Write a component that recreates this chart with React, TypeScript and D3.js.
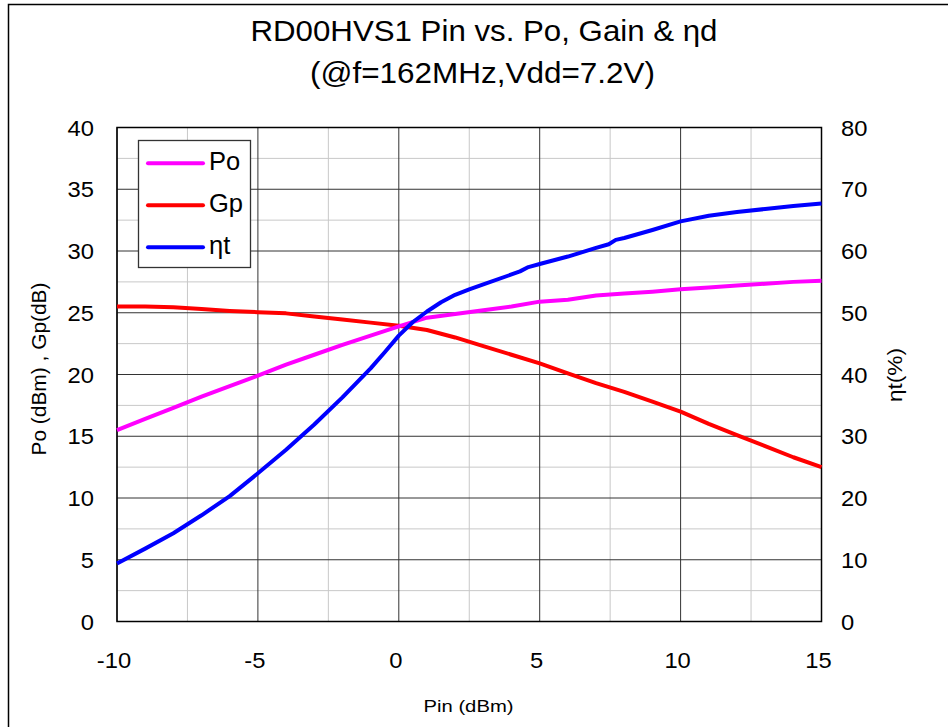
import React from 'react';
import * as d3 from 'd3';

// Pin (dBm) sample points
const pinMain = [-10, -9, -8, -7, -6, -5, -4, -3, -2, -1, 0, 1, 2, 3, 4, 5, 6, 7, 8, 9, 10, 11, 12, 13, 14, 15];
const poValues = [15.5, 16.4, 17.3, 18.2, 19.05, 19.9, 20.8, 21.6, 22.4, 23.15, 23.9, 24.6, 24.9, 25.2, 25.5, 25.9, 26.05, 26.4, 26.55, 26.7, 26.9, 27.05, 27.2, 27.35, 27.5, 27.6];
const gpValues = [25.5, 25.5, 25.45, 25.3, 25.15, 25.05, 24.95, 24.7, 24.45, 24.2, 23.95, 23.6, 23.0, 22.3, 21.6, 20.9, 20.1, 19.3, 18.6, 17.8, 17.0, 16.0, 15.1, 14.2, 13.3, 12.5];

const pinEta = [-10, -9, -8, -7, -6, -5, -4, -3, -2, -1, -0.5, 0, 0.5, 1, 1.5, 2, 2.5, 3, 4, 4.3, 4.6, 5, 6, 7, 7.45, 7.7, 8, 9, 10, 11, 12, 13, 14, 15];
const etaValues = [9.4, 11.8, 14.3, 17.2, 20.3, 24.0, 27.8, 31.9, 36.3, 41.0, 43.6, 46.3, 48.5, 50.2, 51.7, 52.9, 53.8, 54.6, 56.2, 56.7, 57.4, 57.9, 59.1, 60.5, 61.1, 61.8, 62.1, 63.4, 64.8, 65.7, 66.3, 66.8, 67.3, 67.7];

const xTicks = [-10, -5, 0, 5, 10, 15];
const xMinor = [-7.5, -2.5, 2.5, 7.5, 12.5];
const yLeftTicks = [0, 5, 10, 15, 20, 25, 30, 35, 40];
const yLeftMinor = [2.5, 7.5, 12.5, 17.5, 22.5, 27.5, 32.5, 37.5];
const yRightTicks = [0, 10, 20, 30, 40, 50, 60, 70, 80];

const legendItems = [
  { name: 'Po', color: '#ff00ff' },
  { name: 'Gp', color: '#ff0000' },
  { name: 'ηt', color: '#0000ff' },
];

const FONT = 'Arial, "Liberation Sans", sans-serif';

const App = () => {
  const width = 948;
  const height = 727;
  const margin = { left: 117, right: 948 - 821.5, top: 127.5, bottom: 727 - 621.5 };

  const x = d3.scaleLinear().domain([-10, 15]).range([margin.left, width - margin.right]);
  const yL = d3.scaleLinear().domain([0, 40]).range([height - margin.bottom, margin.top]);
  const yR = d3.scaleLinear().domain([0, 80]).range([height - margin.bottom, margin.top]);

  const lineL = d3.line<[number, number]>().x(d => x(d[0])).y(d => yL(d[1]));
  const lineR = d3.line<[number, number]>().x(d => x(d[0])).y(d => yR(d[1]));

  const poPath = lineL(pinMain.map((p, i) => [p, poValues[i]]));
  const gpPath = lineL(pinMain.map((p, i) => [p, gpValues[i]]));
  const etaPath = lineR(pinEta.map((p, i) => [p, etaValues[i]]));

  const x0 = x(-10), x1 = x(15), y0 = yL(0), y1 = yL(40);
  const sx = 1.08; // the original text is slightly wide

  return (
    <div style={{ position: 'absolute', left: 0, top: 0 }}>
      <svg width={width} height={height} style={{ display: 'block', fontFamily: FONT }}>
        <rect x={0} y={0} width={width} height={height} fill="#fff" />
        {/* outer frame */}
        <rect x={8.5} y={4.5} width={960} height={760} fill="none" stroke="#000" strokeWidth={1.5} />

        {/* title */}
        <text x={484} y={41} fontSize={29} textAnchor="middle" textLength={467} lengthAdjust="spacingAndGlyphs" fill="#000">
          RD00HVS1 Pin vs. Po, Gain &amp; ηd
        </text>
        <text x={482.5} y={83} fontSize={29} textAnchor="middle" textLength={345} lengthAdjust="spacingAndGlyphs" fill="#000">
          (@f=162MHz,Vdd=7.2V)
        </text>

        {/* minor grid */}
        {xMinor.map(v => (
          <line key={'xm' + v} x1={x(v)} x2={x(v)} y1={y1} y2={y0} stroke="#c8c8c8" strokeWidth={1} />
        ))}
        {yLeftMinor.map(v => (
          <line key={'ym' + v} x1={x0} x2={x1} y1={yL(v)} y2={yL(v)} stroke="#c8c8c8" strokeWidth={1} />
        ))}
        {/* major grid */}
        {xTicks.map(v => (
          <line key={'xg' + v} x1={x(v)} x2={x(v)} y1={y1} y2={y0} stroke="#333" strokeWidth={1} />
        ))}
        {yLeftTicks.map(v => (
          <line key={'yg' + v} x1={x0} x2={x1} y1={yL(v)} y2={yL(v)} stroke="#333" strokeWidth={1} />
        ))}
        <rect x={x0} y={y1} width={x1 - x0} height={y0 - y1} fill="none" stroke="#000" strokeWidth={1.5} />

        {/* series */}
        <path d={gpPath || ''} fill="none" stroke="#ff0000" strokeWidth={4} strokeLinejoin="round" />
        <path d={poPath || ''} fill="none" stroke="#ff00ff" strokeWidth={4} strokeLinejoin="round" />
        <path d={etaPath || ''} fill="none" stroke="#0000ff" strokeWidth={4} strokeLinejoin="round" />

        {/* left axis labels */}
        {yLeftTicks.map(v => (
          <text key={'yl' + v} transform={`translate(94,${yL(v) + 8}) scale(${sx},1)`} fontSize={22} textAnchor="end" fill="#000">
            {v}
          </text>
        ))}
        {/* right axis labels */}
        {yRightTicks.map(v => (
          <text key={'yr' + v} transform={`translate(841,${yR(v) + 8}) scale(${sx},1)`} fontSize={22} textAnchor="start" fill="#000">
            {v}
          </text>
        ))}
        {/* x axis labels */}
        {xTicks.map(v => (
          <text key={'xl' + v} transform={`translate(${x(v) - 3},${y0 + 46}) scale(${sx},1)`} fontSize={22} textAnchor="middle" fill="#000">
            {v}
          </text>
        ))}

        {/* axis titles */}
        <text x={468.5} y={712} fontSize={17} textAnchor="middle" textLength={90} lengthAdjust="spacingAndGlyphs" fill="#000">
          Pin (dBm)
        </text>
        <text transform={`translate(46,369) rotate(-90)`} fontSize={20} textAnchor="middle" textLength={173} lengthAdjust="spacingAndGlyphs" fill="#000">
          Po (dBm) , Gp(dB)
        </text>
        <text transform={`translate(902,375) rotate(-90)`} fontSize={20} textAnchor="middle" textLength={54} lengthAdjust="spacingAndGlyphs" fill="#000">
          ηt(%)
        </text>

        {/* legend */}
        <rect x={138.5} y={140.5} width={112} height={127} fill="#fff" stroke="#333" strokeWidth={1.3} />
        {legendItems.map((d, i) => {
          const ly = 163.3 + i * 42;
          return (
            <g key={d.name}>
              <line x1={148} x2={203} y1={ly} y2={ly} stroke={d.color} strokeWidth={4} strokeLinecap="round" />
              <text transform={`translate(209,${ly + 7}) scale(1.02,1)`} fontSize={25} fill="#000">
                {d.name}
              </text>
            </g>
          );
        })}
      </svg>
    </div>
  );
};

export default App;
